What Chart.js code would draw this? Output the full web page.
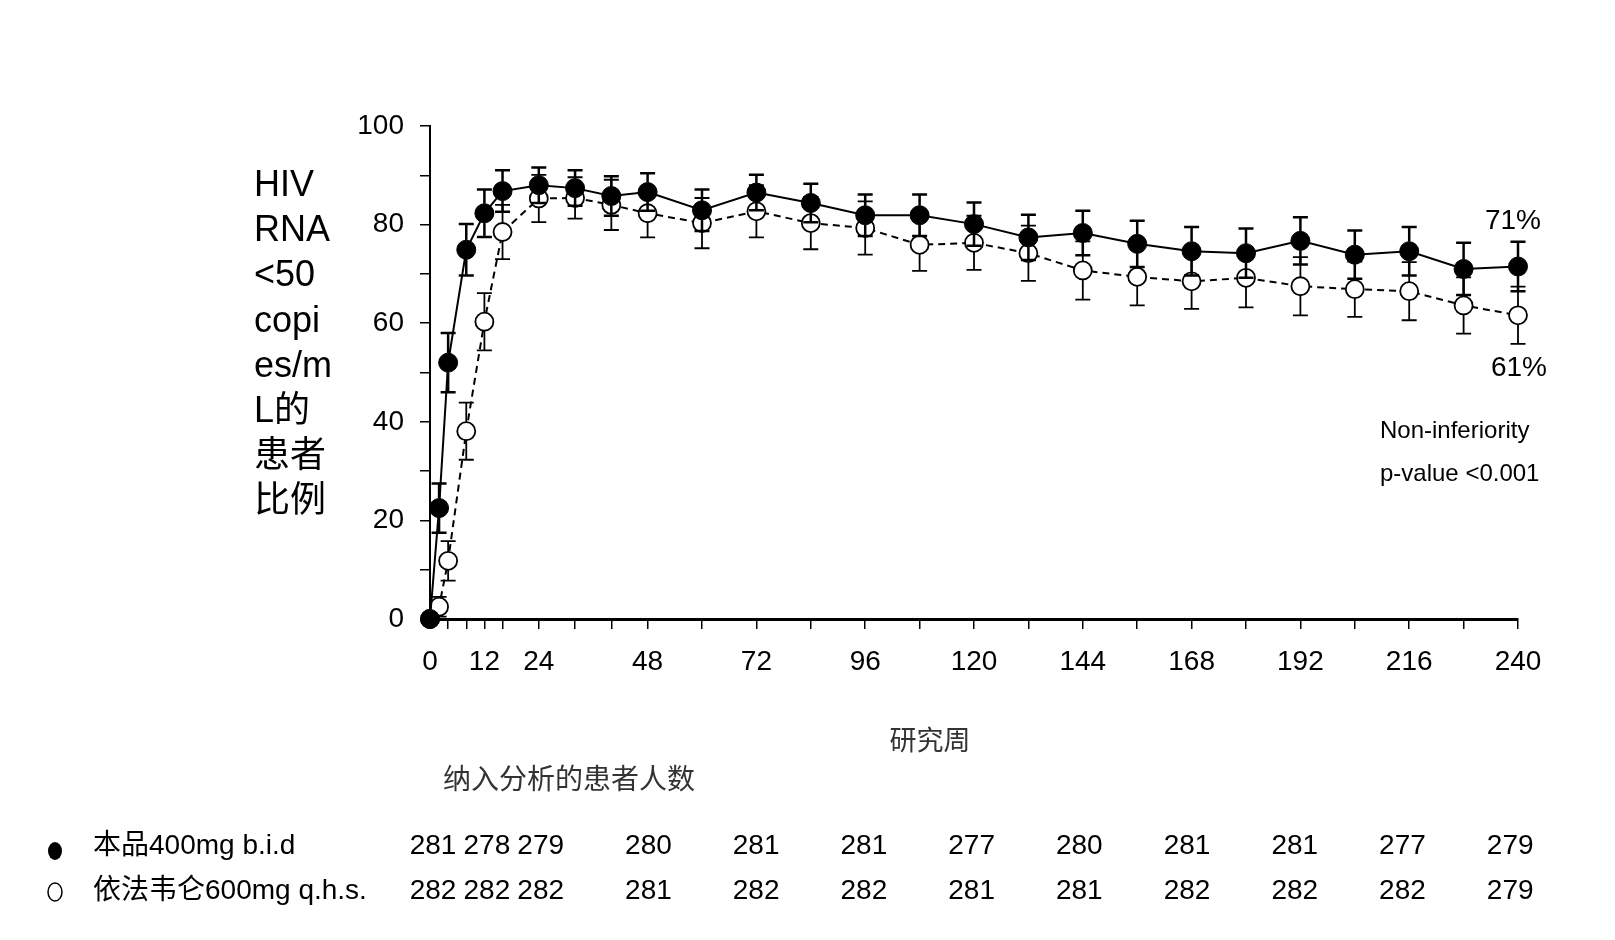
<!DOCTYPE html>
<html>
<head>
<meta charset="utf-8">
<script src="https://cdn.jsdelivr.net/npm/chart.js@4.4.1/dist/chart.umd.min.js"></script>
<style>
  body { margin: 0; background: #fff; overflow: hidden; }
</style>
</head>
<body>
<canvas id="hivChart" width="1615" height="940"></canvas>
<script>
// study weeks at which response was measured
const weeks = [0, 2, 4, 8, 12, 16, 24, 32, 40, 48, 60, 72, 84, 96, 108, 120, 132, 144, 156, 168, 180, 192, 204, 216, 228, 240];

// % patients with HIV RNA <50 copies/mL
const raltegravirPct = [0, 22.5, 52, 74.9, 82.3, 86.8, 88, 87.4, 85.8, 86.6, 82.9, 86.5, 84.4, 81.9, 81.9, 80.1, 77.4, 78.3, 76.1, 74.6, 74.2, 76.7, 73.9, 74.6, 71.0, 71.5];
const raltegravirErr = [0, 5, 6, 5.2, 4.8, 4.2, 3.6, 3.6, 4.0, 3.8, 4.2, 3.6, 3.9, 4.2, 4.2, 4.4, 4.6, 4.5, 4.7, 4.9, 5.0, 4.8, 4.9, 4.9, 5.3, 5.0];
const efavirenzPct = [0, 2.5, 11.8, 38.1, 60.3, 78.5, 85.3, 85.4, 84.0, 82.3, 80.3, 82.7, 80.3, 79.3, 75.9, 76.3, 74.2, 70.7, 69.4, 68.5, 69.2, 67.5, 66.9, 66.5, 63.6, 61.6];
const efavirenzErr = [0, 2, 4, 5.8, 5.8, 5.5, 4.8, 4.2, 5.1, 4.9, 5.1, 5.3, 5.3, 5.4, 5.3, 5.5, 5.6, 5.9, 5.8, 5.6, 6.0, 5.9, 5.6, 5.9, 5.7, 5.8];

// axis ticks
const xTickWeeks = [0, 4, 8, 12, 16, 24, 32, 40, 48, 60, 72, 84, 96, 108, 120, 132, 144, 156, 168, 180, 192, 204, 216, 228, 240];
const xLabelWeeks = [0, 12, 24, 48, 72, 96, 120, 144, 168, 192, 216, 240];

// number of patients analysed
const countWeeks = [0, 12, 24, 48, 72, 96, 120, 144, 168, 192, 216, 240];
const raltegravirN = [281, 278, 279, 280, 281, 281, 277, 280, 281, 281, 277, 279];
const efavirenzN = [282, 282, 282, 281, 282, 282, 281, 281, 282, 282, 282, 279];

const seriesNames = ['本品400mg b.i.d', '依法韦仑600mg q.h.s.'];
const yTitleLines = ['HIV', 'RNA', '<50', 'copi', 'es/m', 'L的', '患者', '比例'];
const xTitle = '研究周';
const countTitle = '纳入分析的患者人数';
const endLabels = ['71%', '61%'];
const noteLines = ['Non-inferiority', 'p-value <0.001'];

const LATIN = "'Liberation Sans', Arial, 'Noto Sans CJK SC', sans-serif";

const errorBars = {
  id: 'errorBars',
  afterDatasetsDraw(chart) {
    const ctx = chart.ctx;
    const ys = chart.scales.y;
    chart.data.datasets.forEach((ds, i) => {
      const meta = chart.getDatasetMeta(i);
      const r = ds.pointRadius;
      ctx.save();
      ctx.strokeStyle = '#000';
      ctx.lineWidth = ds.errWidth;
      meta.data.forEach((pt, j) => {
        const e = ds.err[j];
        if (!e) return;
        const v = ds.data[j].y;
        const top = ys.getPixelForValue(v + e);
        const bot = ys.getPixelForValue(v - e);
        ctx.beginPath();
        if (pt.y - top > r) { ctx.moveTo(pt.x, pt.y - r); ctx.lineTo(pt.x, top); }
        if (bot - pt.y > r) { ctx.moveTo(pt.x, pt.y + r); ctx.lineTo(pt.x, bot); }
        ctx.moveTo(pt.x - 7.5, top); ctx.lineTo(pt.x + 7.5, top);
        ctx.moveTo(pt.x - 7.5, bot); ctx.lineTo(pt.x + 7.5, bot);
        ctx.stroke();
      });
      ctx.restore();
    });
  }
};

const annotations = {
  id: 'annotations',
  afterDraw(chart) {
    const ctx = chart.ctx;
    const xs = chart.scales.x;
    ctx.save();
    ctx.fillStyle = '#000';
    ctx.textBaseline = 'middle';

    // y axis title, stacked
    ctx.font = '36px ' + LATIN;
    ctx.textAlign = 'left';
    yTitleLines.forEach((t, i) => ctx.fillText(t, 254, 186 + i * 45.2));

    // end-point labels and note
    ctx.font = '28px ' + LATIN;
    ctx.textAlign = 'center';
    ctx.fillText(endLabels[0], xs.getPixelForValue(240) - 5, 221);
    ctx.fillText(endLabels[1], xs.getPixelForValue(240) + 1, 368);
    ctx.font = '24px ' + LATIN;
    ctx.textAlign = 'left';
    ctx.fillText(noteLines[0], 1380, 431);
    ctx.fillText(noteLines[1], 1380, 474);

    // x axis title and count table header
    ctx.fillStyle = '#333';
    ctx.font = "27px 'Noto Sans CJK SC', sans-serif";
    ctx.textAlign = 'center';
    ctx.fillText(xTitle, 930, 740);
    ctx.font = "28px 'Noto Sans CJK SC', sans-serif";
    ctx.textAlign = 'left';
    ctx.fillText(countTitle, 443, 778);

    // legend rows
    ctx.fillStyle = '#000';
    ctx.font = '28px ' + LATIN;
    ctx.fillText(seriesNames[0], 93, 846);
    ctx.fillText(seriesNames[1], 93, 891);
    ctx.beginPath();
    ctx.ellipse(55, 851, 7, 9, 0, 0, Math.PI * 2);
    ctx.fill();
    ctx.beginPath();
    ctx.ellipse(55, 892, 7, 9, 0, 0, Math.PI * 2);
    ctx.lineWidth = 1.5;
    ctx.stroke();

    // patient counts under each labelled week
    ctx.textAlign = 'center';
    countWeeks.forEach((w, i) => {
      const x = xs.getPixelForValue(w) - w * 0.045 + 3;
      ctx.fillText(String(raltegravirN[i]), x, 846);
      ctx.fillText(String(efavirenzN[i]), x, 891);
    });
    ctx.restore();
  }
};

const ctx = document.getElementById('hivChart');
new Chart(ctx, {
  type: 'line',
  data: {
    datasets: [{
      label: seriesNames[0],
      data: weeks.map((w, i) => ({ x: w, y: raltegravirPct[i] })),
      err: raltegravirErr,
      errWidth: 2.5,
      borderColor: '#000',
      borderWidth: 2,
      pointRadius: 9.5,
      pointBackgroundColor: '#000',
      pointBorderColor: '#000',
      pointBorderWidth: 1,
      tension: 0,
      clip: false
    }, {
      label: seriesNames[1],
      data: weeks.map((w, i) => ({ x: w, y: efavirenzPct[i] })),
      err: efavirenzErr,
      errWidth: 1.8,
      borderColor: '#000',
      borderWidth: 2,
      borderDash: [7, 5],
      pointRadius: 9,
      pointBackgroundColor: '#fff',
      pointBorderColor: '#000',
      pointBorderWidth: 1.8,
      tension: 0,
      clip: false
    }]
  },
  options: {
    responsive: false,
    animation: false,
    events: [],
    layout: { padding: { top: 126, right: 97, left: 0, bottom: 0 } },
    plugins: { legend: { display: false }, tooltip: { enabled: false } },
    scales: {
      x: {
        type: 'linear',
        min: 0,
        max: 240,
        afterBuildTicks: s => { s.ticks = xTickWeeks.map(v => ({ value: v })); },
        afterFit: s => { s.height = 321; },
        grid: { drawOnChartArea: false, color: '#000', lineWidth: 1.5, tickLength: 10 },
        border: { color: '#000', width: 3 },
        ticks: {
          color: '#000',
          font: { family: LATIN, size: 28 },
          padding: 16,
          maxRotation: 0,
          autoSkip: false,
          callback: v => xLabelWeeks.includes(v) ? String(v) : ''
        }
      },
      y: {
        min: 0,
        max: 100,
        afterFit: s => { s.width = 430; },
        grid: { drawOnChartArea: false, color: '#000', lineWidth: 1.5, tickLength: 10 },
        border: { color: '#000', width: 2 },
        ticks: {
          stepSize: 10,
          color: '#000',
          font: { family: LATIN, size: 28 },
          padding: 16,
          callback: v => v % 20 === 0 ? String(v) : ''
        }
      }
    }
  },
  plugins: [errorBars, annotations]
});
</script>
</body>
</html>
